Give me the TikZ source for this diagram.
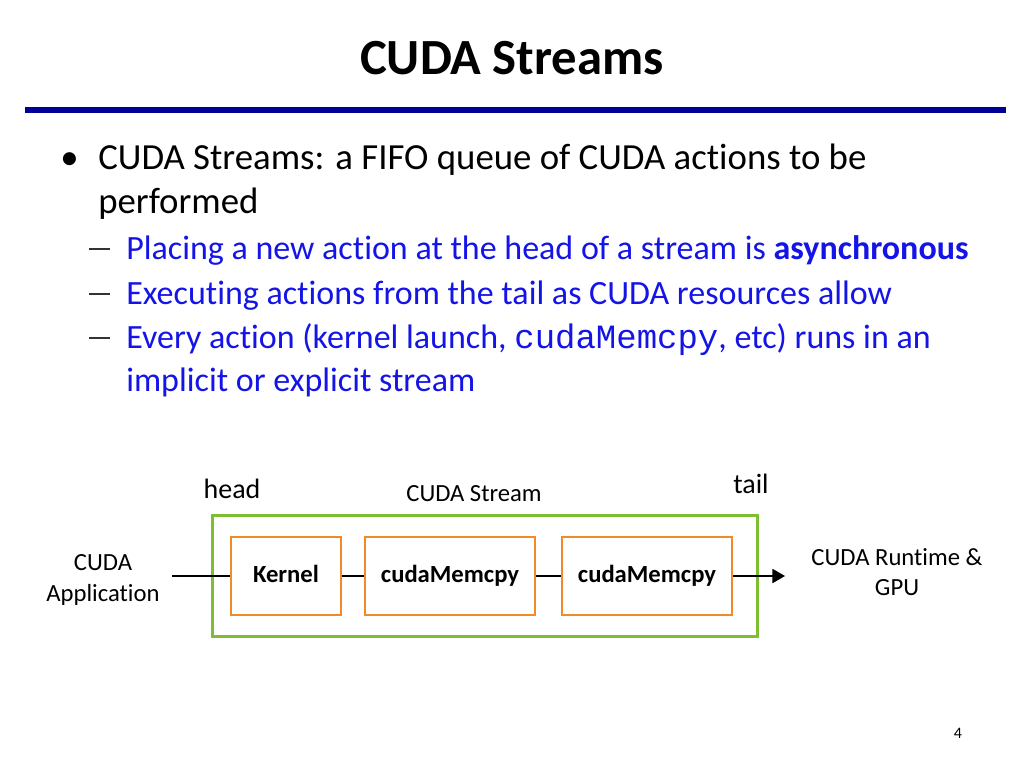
\documentclass[tikz,border=0pt]{standalone}
\usepackage{fontspec}
\setmainfont[Ligatures={NoCommon}]{Carlito}
\newfontfamily\codefont{Liberation Mono}
\usetikzlibrary{arrows}
\usetikzlibrary{positioning}
\definecolor{navy}{RGB}{0,0,150}
\definecolor{txtblue}{RGB}{20,20,230}
\definecolor{boxgreen}{RGB}{125,190,50}
\definecolor{boxorange}{RGB}{240,140,40}

\begin{document}
\begin{tikzpicture}[x=0.75pt,y=-0.75pt]
    \tikzstyle{line}=[text=black,anchor=base west,inner sep=0pt,font=\fontsize{27.6}{32}\selectfont]
    \tikzstyle{sub}=[text=txtblue,anchor=base west,inner sep=0pt,font=\fontsize{25.5}{30}\selectfont]
    \tikzstyle{action}=[draw=boxorange,line width=1.6pt,fill=white,minimum height=58pt,inner sep=0pt,text height=13pt,text depth=4pt,font=\bfseries\fontsize{18.5}{22}\selectfont]
    \tikzstyle{label}=[align=center,inner sep=0pt,font=\fontsize{18.5}{23}\selectfont]
    \tikzstyle{edge}=[draw=black,line width=1.6pt,-]

    \useasboundingbox (0,0) rectangle (1024,768);

    % title
    \node[font=\bfseries\fontsize{38}{44}\selectfont] (title) at (512,58) {CUDA Streams};
    \draw[navy,line width=4.5pt] (25,110) -- (1006,110);

    % bullet text
    \node[line] (dot) at (60,169) {\textbullet};
    \node[line] (b1) at (98,169) {CUDA Streams: a FIFO queue of CUDA actions to be};
    \node[line] (b2) at (98,213) {performed};
    \node[sub] (s1) at (126,259) {Placing a new action at the head of a stream is \textbf{asynchronous}};
    \node[sub] (s2) at (126,304) {Executing actions from the tail as CUDA resources allow};
    \node[sub] (s3) at (126,348) {Every action (kernel launch, {\codefont cudaMemcpy}, etc) runs in an};
    \node[sub] (s4) at (126,391) {implicit or explicit stream};
    \foreach \y in {249,294,338}
        \draw[black!80,line width=0.9pt] (89,\y) -- (110,\y);

    % stream
    \node[draw=boxgreen,line width=2pt,minimum width=409pt,minimum height=91pt] (stream) at (485,576) {};
    \node[action,minimum width=82pt] (k)  at (286,576) {Kernel};
    \node[action,minimum width=128pt] (m1) at (450,576) {cudaMemcpy};
    \node[action,minimum width=128pt] (m2) at (647,576) {cudaMemcpy};

    \node[label] (app) at (103,580) {CUDA\\Application};
    \node[label] (gpu) at (897,572) {CUDA Runtime \&\\GPU};
    \coordinate (in) at (172,576);
    \coordinate (out) at (785,576);

    \path[edge] (in) -- (k);
    \path[edge] (k) -- (m1);
    \path[edge] (m1) -- (m2);
    \draw[line width=1.6pt,-triangle 60] (m2) -- (out);

    \node[label,font=\fontsize{21}{25}\selectfont] (head) at (232,489) {head};
    \node[label] (name) at (474,494) {CUDA Stream};
    \node[label,font=\fontsize{21}{25}\selectfont] (tail) at (751,484) {tail};

    \node[font=\fontsize{12}{14}\selectfont] (page) at (958,733) {4};
\end{tikzpicture}
\end{document}
